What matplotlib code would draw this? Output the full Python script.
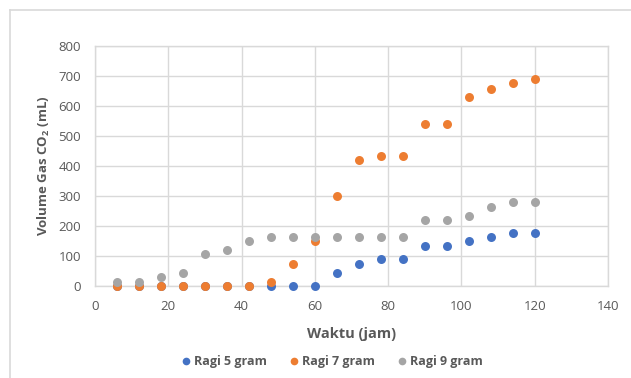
import matplotlib
matplotlib.use("Agg")
import matplotlib.pyplot as plt
from matplotlib.lines import Line2D

waktu = [6, 12, 18, 24, 30, 36, 42, 48, 54, 60, 66, 72, 78, 84, 90, 96, 102, 108, 114, 120]
ragi5 = [0, 0, 0, 0, 0, 0, 0, 0, 0, 0, 45, 75, 90, 90, 135, 135, 150, 165, 178, 178]
ragi7 = [0, 0, 0, 0, 0, 0, 0, 15, 75, 150, 300, 420, 435, 435, 540, 540, 630, 658, 676, 690]
ragi9 = [14, 14, 30, 44, 106, 120, 150, 164, 164, 164, 164, 164, 164, 164, 220, 220, 234, 264, 279, 279]
series_names = ["Ragi 5 gram", "Ragi 7 gram", "Ragi 9 gram"]
colors = ["#4472C4", "#ED7D31", "#A5A5A5"]
xticks = [0, 20, 40, 60, 80, 100, 120, 140]
yticks = [0, 100, 200, 300, 400, 500, 600, 700, 800]

plt.rcParams['font.family'] = ['Open Sans', 'DejaVu Sans']

fig = plt.figure(figsize=(6.31, 3.78), dpi=100)
ax = fig.add_axes([95/631, 1-286/378, (608-95)/631, (286-46)/378])

for vals, name, c in zip([ragi5, ragi7, ragi9], series_names, colors):
    ax.scatter(waktu, vals, s=42, color=c, label=name, zorder=3, linewidths=0, clip_on=False)

ax.set_xlim(0, 140)
ax.set_ylim(0, 800)
ax.set_xticks(xticks)
ax.set_yticks(yticks)
ax.grid(True, color="#D9D9D9", linewidth=1)
ax.set_axisbelow(True)
for sp in ax.spines.values():
    sp.set_color("#D9D9D9")
    sp.set_linewidth(1)
ax.tick_params(axis='both', length=0, labelsize=9.5, labelcolor="#595959")
ax.tick_params(axis='x', pad=10)
ax.tick_params(axis='y', pad=10)

ax.set_xlabel("Waktu (jam)", fontsize=10.5, fontweight='bold', color="#595959", labelpad=10)
ax.set_ylabel("Volume Gas CO$_\\mathregular{2}$ (mL)", fontsize=9.5, fontweight='bold', color="#595959", labelpad=5)

leg = fig.legend(loc='center', bbox_to_anchor=(330/631, 1-361/378), ncol=3, frameon=False,
                 fontsize=9, handletextpad=0.0, columnspacing=1.5, markerscale=0.85,
                 handlelength=1.3)
for t in leg.get_texts():
    t.set_color("#595959")
    t.set_fontweight('bold')

fig.add_artist(Line2D([10/631, 10/631], [0, 1-10/378], color="#D9D9D9", linewidth=1.2, transform=fig.transFigure))
fig.add_artist(Line2D([10/631, 1], [1-10/378, 1-10/378], color="#D9D9D9", linewidth=1.2, transform=fig.transFigure))

fig.savefig("out.png", dpi=100)
